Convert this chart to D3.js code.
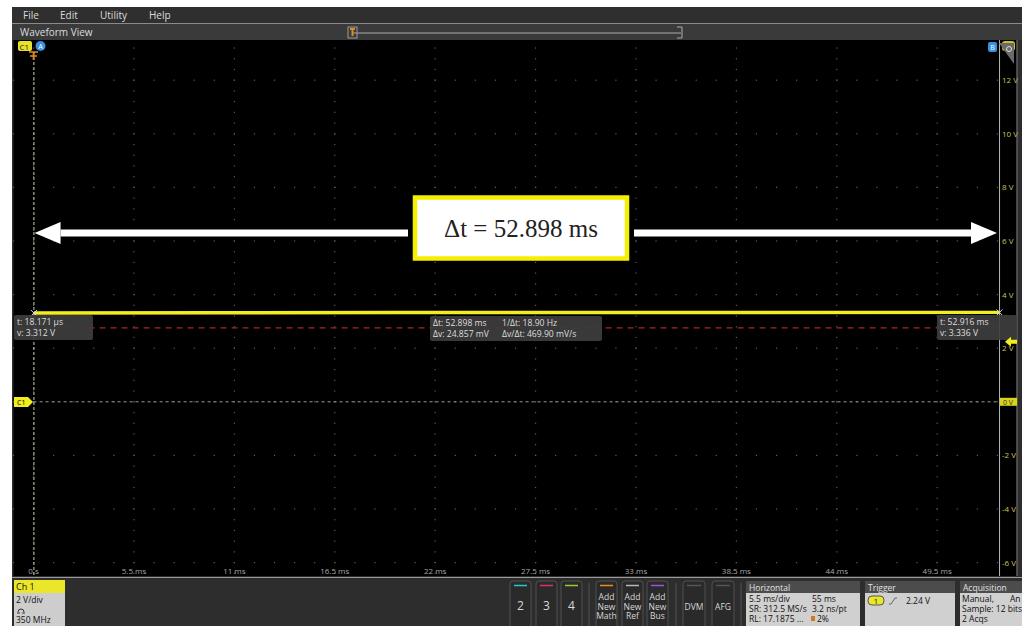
<!DOCTYPE html>
<html><head><meta charset="utf-8">
<script src="https://cdn.jsdelivr.net/npm/d3@7"></script>
<style>
html,body{margin:0;padding:0;background:#fff;}
svg{display:block;font-family:"Open Sans","DejaVu Sans",sans-serif;}
</style></head>
<body><svg id="c" width="1022" height="626"></svg>
<script>
// ---------- data ----------
const menuItems = ["File", "Edit", "Utility", "Help"];
const timeTicks = [0, 5.5, 11, 16.5, 22, 27.5, 33, 38.5, 44, 49.5];
const timeTickLabels = ["0 s", "5.5 ms", "11 ms", "16.5 ms", "22 ms", "27.5 ms", "33 ms", "38.5 ms", "44 ms", "49.5 ms"];
const voltTicks = [12, 10, 8, 6, 4, 2, 0, -2, -4, -6];
const voltTickLabels = ["12 V", "10 V", "8 V", "6 V", "4 V", "2 V", "0 V", "-2 V", "-4 V", "-6 V"];
const timeDomain = [-1.1, 53.9];      // ms, 55 ms record, 2% pre-trigger
const voltDomain = [-6.5, 13.5];      // V, 2 V/div
const traceTime = [0.018, 10, 20, 30, 40, 52.916];
const traceVolt = [3.312, 3.32, 3.33, 3.33, 3.33, 3.336];
const cursorA = {t: 0.018171, v: 3.312, label: ["t: 18.171 \u00b5s", "v: 3.312 V"]};
const cursorB = {t: 52.916, v: 3.336, label: ["t: 52.916 ms", "v: 3.336 V"]};
const deltaLabels = [["\u0394t: 52.898 ms", "1/\u0394t: 18.90 Hz"], ["\u0394v: 24.857 mV", "\u0394v/\u0394t: 469.90 mV/s"]];
const refLevel = 2.76;
const triggerLevel = 2.24;
const annotationText = "\u0394t = 52.898 ms";
const chButtons = [{label: "2", color: "#27c9c9"}, {label: "3", color: "#e0305e"}, {label: "4", color: "#9ccc2c"}];
const addButtons = [{label: ["Add", "New", "Math"], color: "#f08a24"}, {label: ["Add", "New", "Ref"], color: "#b8b8b8"}, {label: ["Add", "New", "Bus"], color: "#a64ee0"}];
const toolButtons = ["DVM", "AFG"];
const horizontalLines = [["5.5 ms/div", "55 ms"], ["SR: 312.5 MS/s", "3.2 ns/pt"], ["RL: 17.1875 ...", "2%"]];
const acquisitionLines = [["Manual,", "An"], ["Sample: 12 bits", ""], ["2 Acqs", ""]];
const ch1Lines = ["2 V/div", "", "350 MHz"];

// ---------- layout ----------
const svg = d3.select("#c");
const P = {l: 13.5, r: 1017.5, t: 40, b: 576};
const x = d3.scaleLinear().domain(timeDomain).range([P.l, P.r]);
const y = d3.scaleLinear().domain(voltDomain).range([P.b, P.t]);

// frame backgrounds
svg.append("rect").attr("x", 12).attr("y", 7).attr("width", 1010).attr("height", 619).attr("fill", "#2c2c2c");
svg.append("rect").attr("x", 12).attr("y", 7).attr("width", 1010).attr("height", 16).attr("fill", "#2f2f2f");
const menuX = [23, 60, 100, 149];
svg.selectAll("text.menu").data(menuItems).join("text").attr("class", "menu")
  .attr("x", (d, i) => menuX[i]).attr("y", 19).attr("fill", "#dcdcdc").attr("font-size", 10).text(d => d);
svg.append("line").attr("x1", 12).attr("x2", 1022).attr("y1", 23.5).attr("y2", 23.5).attr("stroke", "#8a8a8a");
svg.append("rect").attr("x", 12).attr("y", 24).attr("width", 1010).attr("height", 16).attr("fill", "#3a3a3a");
svg.append("text").attr("x", 20).attr("y", 36).attr("fill", "#dcdcdc").attr("font-size", 10).text("Waveform View");
svg.append("line").attr("x1", 352).attr("x2", 681).attr("y1", 33).attr("y2", 33).attr("stroke", "#a8a8a8").attr("stroke-width", 1.2);
svg.append("rect").attr("x", 348).attr("y", 27).attr("width", 9).attr("height", 11).attr("fill", "none").attr("stroke", "#999");
svg.append("path").attr("d", "M350,29 h5 M352.5,29 v7").attr("stroke", "#e08a2a").attr("stroke-width", 2);
svg.append("path").attr("d", "M677,27 h5 v11 h-5").attr("fill", "none").attr("stroke", "#aaa");

// plot area
svg.append("rect").attr("x", P.l).attr("y", P.t).attr("width", P.r - P.l).attr("height", P.b - P.t).attr("fill", "#000");

// graticule dots
const dots = [];
timeTicks.forEach(t => {
  for (let v = -6.4; v < 13.5; v += 0.4) dots.push([x(t), y(v)]);
});
voltTicks.forEach(v => {
  for (let t = -1.1; t < 53.9; t += 1.1) dots.push([x(t), y(v)]);
});
svg.append("g").selectAll("rect").data(dots).join("rect")
  .attr("x", d => d[0] - 0.6).attr("y", d => d[1] - 0.6).attr("width", 1.2).attr("height", 1.2).attr("fill", "#5c5c5c");

// time axis labels
svg.append("g").selectAll("text").data(timeTicks).join("text")
  .attr("x", d => x(d)).attr("y", 574).attr("text-anchor", "middle").attr("fill", "#a8a8a8").attr("font-size", 8)
  .text((d, i) => timeTickLabels[i]);

// right volt labels
svg.append("g").selectAll("text").data(voltTicks.filter(v => v !== 0)).join("text")
  .attr("x", 1002).attr("y", d => y(d) + 3).attr("fill", "#c9c55a").attr("font-size", 8)
  .text(d => voltTickLabels[voltTicks.indexOf(d)]);

// ground dashed line
svg.append("line").attr("x1", x(0)).attr("x2", x(cursorB.t)).attr("y1", y(0)).attr("y2", y(0))
  .attr("stroke", "#9a9a9a").attr("stroke-dasharray", "3,3").attr("stroke-width", 1);
// ref dashed red
svg.append("line").attr("x1", x(0)).attr("x2", x(cursorB.t)).attr("y1", y(refLevel)).attr("y2", y(refLevel))
  .attr("stroke", "#a8262e").attr("stroke-dasharray", "6,5").attr("stroke-width", 1.2);

// trace
const line = d3.line().x((d, i) => x(traceTime[i])).y((d, i) => y(traceVolt[i]));
svg.append("path").datum(traceTime).attr("d", line).attr("fill", "none").attr("stroke", "#f2ee1e").attr("stroke-width", 3.4);

// cursors
svg.append("line").attr("x1", x(cursorA.t)).attr("x2", x(cursorA.t)).attr("y1", P.t + 12).attr("y2", P.b)
  .attr("stroke", "#d0d0b0").attr("stroke-dasharray", "3,2").attr("stroke-width", 1);
svg.append("line").attr("x1", x(cursorB.t)).attr("x2", x(cursorB.t)).attr("y1", P.t).attr("y2", P.b)
  .attr("stroke", "#b5b5b5").attr("stroke-width", 1);
svg.append("line").attr("x1", 1017).attr("x2", 1017).attr("y1", P.t).attr("y2", P.b).attr("stroke", "#8a8a8a");
[cursorA, cursorB].forEach(c => {
  const cx = x(c.t), cy = y(c.v);
  svg.append("path").attr("d", `M${cx - 3},${cy - 3}L${cx + 3},${cy + 3}M${cx - 3},${cy + 3}L${cx + 3},${cy - 3}`)
    .attr("stroke", "#ddd").attr("stroke-width", 1);
});

// readout boxes
function readout(x0, y0, w, rows, cols) {
  svg.append("rect").attr("x", x0).attr("y", y0).attr("width", w).attr("height", 25).attr("rx", 2)
    .attr("fill", "#3e3e3e").attr("fill-opacity", 0.92);
  rows.forEach((r, i) => {
    (Array.isArray(r) ? r : [r]).forEach((s, j) => {
      svg.append("text").attr("x", x0 + 3 + (cols ? cols[j] : 0)).attr("y", y0 + 10 + i * 10.5)
        .attr("fill", "#dedede").attr("font-size", 8.6).text(s);
    });
  });
}
readout(14, 315, 79, cursorA.label);
readout(430, 316, 172, deltaLabels, [0, 69]);
readout(937, 315, 80, cursorB.label);

// C1 ground marker on left
svg.append("path").attr("d", "M14,397 h14 l5,5 l-5,5 h-14 z").attr("fill", "#f2ee1e");
svg.append("text").attr("x", 17).attr("y", 405).attr("font-size", 7).attr("fill", "#000").text("C1");
// right marker 0 V
svg.append("rect").attr("x", 1000).attr("y", y(0) - 4).attr("width", 17).attr("height", 8).attr("fill", "#d8d41c");
svg.append("text").attr("x", 1003).attr("y", y(0) + 3).attr("font-size", 7).attr("fill", "#333").text("0 V");
// trigger level arrow
const ty = y(triggerLevel);
svg.append("path").attr("d", `M1005,${ty} l6,-5 v3 h6 v4 h-6 v3 z`).attr("fill", "#f2ee1e");

// top badges
svg.append("rect").attr("x", 18).attr("y", 41).attr("width", 14).attr("height", 10).attr("rx", 2).attr("fill", "#e8e22a");
svg.append("text").attr("x", 19.5).attr("y", 49.5).attr("font-size", 8).attr("fill", "#222").text("C1");
svg.append("circle").attr("cx", 40.5).attr("cy", 46).attr("r", 5).attr("fill", "#3b8fe0");
svg.append("text").attr("x", 40.5).attr("y", 49).attr("text-anchor", "middle").attr("font-size", 7.5).attr("fill", "#fff").text("A");
svg.append("path").attr("d", "M29,52 h9 M33.5,52 v8 M30,56 h7").attr("stroke", "#e08a2a").attr("stroke-width", 1.6).attr("fill", "none");
svg.append("rect").attr("x", 988).attr("y", 42).attr("width", 9).attr("height", 10).attr("rx", 2).attr("fill", "#3b8fe0");
svg.append("text").attr("x", 992.5).attr("y", 50).attr("text-anchor", "middle").attr("font-size", 7).attr("fill", "#fff").text("B");
svg.append("rect").attr("x", 1002).attr("y", 41).attr("width", 13).attr("height", 10).attr("rx", 3).attr("fill", "#c8c21e");
svg.append("path").attr("d", "M999,43 L1014,43 L1014,64 Z").attr("fill", "#6a6a6a");
svg.append("circle").attr("cx", 1009).attr("cy", 49).attr("r", 2.5).attr("fill", "none").attr("stroke", "#ddd");

// annotation arrows
const ay = 233;
function arrow(x1, x2) {
  const dir = x2 > x1 ? 1 : -1;
  const hb = x2 - dir * 26;
  svg.append("rect").attr("x", Math.min(x1, hb)).attr("y", ay - 3.5).attr("width", Math.abs(hb - x1)).attr("height", 7).attr("fill", "#fff");
  svg.append("path").attr("d", `M${x2},${ay} L${hb},${ay - 11} L${hb},${ay + 11} Z`).attr("fill", "#fff");
}
arrow(408, x(0) + 1);
arrow(634, 997);
svg.append("rect").attr("x", 415).attr("y", 197.5).attr("width", 212).attr("height", 61).attr("fill", "#fff")
  .attr("stroke", "#f5f000").attr("stroke-width", 4.5);
svg.append("text").attr("x", 521).attr("y", 237).attr("text-anchor", "middle")
  .attr("font-family", "'Liberation Serif','DejaVu Serif',serif").attr("font-size", 25).attr("fill", "#222").text(annotationText);

// bottom panel
svg.append("rect").attr("x", 12).attr("y", 577).attr("width", 1010).attr("height", 49).attr("fill", "#2d2d2d");
svg.append("line").attr("x1", 12).attr("x2", 1022).attr("y1", 577.5).attr("y2", 577.5).attr("stroke", "#9a9a9a").attr("stroke-width", 1.2);
svg.append("rect").attr("x", 14).attr("y", 580).attr("width", 51).attr("height", 46).attr("fill", "#cdcdcd");
svg.append("rect").attr("x", 14).attr("y", 580).attr("width", 51).attr("height", 13).attr("fill", "#ece62a");
svg.append("text").attr("x", 16).attr("y", 590).attr("font-size", 9).attr("fill", "#111").text("Ch 1");
ch1Lines.forEach((s, i) => svg.append("text").attr("x", 16).attr("y", 603 + i * 10).attr("font-size", 8.5).attr("fill", "#111").text(s));
svg.append("path").attr("d", "M18,612 a3,3 0 0 1 6,0 M17,613 h3 M22,613 h3").attr("fill", "none").attr("stroke", "#333").attr("stroke-width", 1);

// buttons
function button(x0, w, labels, color) {
  svg.append("rect").attr("x", x0).attr("y", 581).attr("width", w).attr("height", 50).attr("rx", 3)
    .attr("fill", "#2a2a2a").attr("stroke", "#505050");
  svg.append("line").attr("x1", x0 + 4).attr("x2", x0 + w - 4).attr("y1", 585.5).attr("y2", 585.5).attr("stroke", color).attr("stroke-width", 1.5);
  const n = labels.length;
  labels.forEach((s, i) => svg.append("text").attr("x", x0 + w / 2).attr("y", n === 1 ? 610 : 600 + i * 9.5)
    .attr("text-anchor", "middle").attr("fill", "#d8d8d8").attr("font-size", n === 1 ? (s.length > 1 ? 8.5 : 12) : 8.5).text(s));
}
const chX = [510, 536, 561];
chButtons.forEach((b, i) => button(chX[i], 21, [b.label], b.color));
const addX = [596, 622, 647];
addButtons.forEach((b, i) => button(addX[i], 21, b.label, b.color));
const toolX = [683, 712];
toolButtons.forEach((b, i) => button(toolX[i], 22, [b], "#555"));
[589, 676, 741].forEach(sx => svg.append("line").attr("x1", sx).attr("x2", sx).attr("y1", 583).attr("y2", 626).attr("stroke", "#555"));

// info panels
function panel(x0, w, title) {
  svg.append("rect").attr("x", x0).attr("y", 581).attr("width", w).attr("height", 45).attr("fill", "#d0d0d0");
  svg.append("rect").attr("x", x0).attr("y", 581).attr("width", w).attr("height", 12).attr("fill", "#4c4c4c");
  svg.append("text").attr("x", x0 + 3).attr("y", 590.5).attr("font-size", 8.5).attr("fill", "#e2e2e2").text(title);
}
panel(746, 114, "Horizontal");
horizontalLines.forEach((r, i) => {
  svg.append("text").attr("x", 749).attr("y", 602 + i * 10).attr("font-size", 8.5).attr("fill", "#111").text(r[0]);
  svg.append("text").attr("x", i === 2 ? 817 : 812).attr("y", 602 + i * 10).attr("font-size", 8.5).attr("fill", "#111").text(r[1]);
});
svg.append("rect").attr("x", 811).attr("y", 616).attr("width", 4).attr("height", 5).attr("fill", "#d07a20");
panel(865, 90, "Trigger");
svg.append("rect").attr("x", 868).attr("y", 596).attr("width", 16).attr("height", 9).attr("rx", 4).attr("fill", "#ece62a").attr("stroke", "#555");
svg.append("text").attr("x", 876).attr("y", 603.5).attr("text-anchor", "middle").attr("font-size", 7.5).attr("fill", "#111").text("1");
svg.append("path").attr("d", "M889,604 h2 l4,-6 h2").attr("fill", "none").attr("stroke", "#666");
svg.append("text").attr("x", 906).attr("y", 603.5).attr("font-size", 8.5).attr("fill", "#111").text(triggerLevel + " V");
panel(960, 62, "Acquisition");
acquisitionLines.forEach((r, i) => {
  svg.append("text").attr("x", 962).attr("y", 602 + i * 10).attr("font-size", 8.5).attr("fill", "#111").text(r[0]);
  if (r[1]) svg.append("text").attr("x", 1010).attr("y", 602 + i * 10).attr("font-size", 8.5).attr("fill", "#111").text(r[1]);
});
</script></body></html>
